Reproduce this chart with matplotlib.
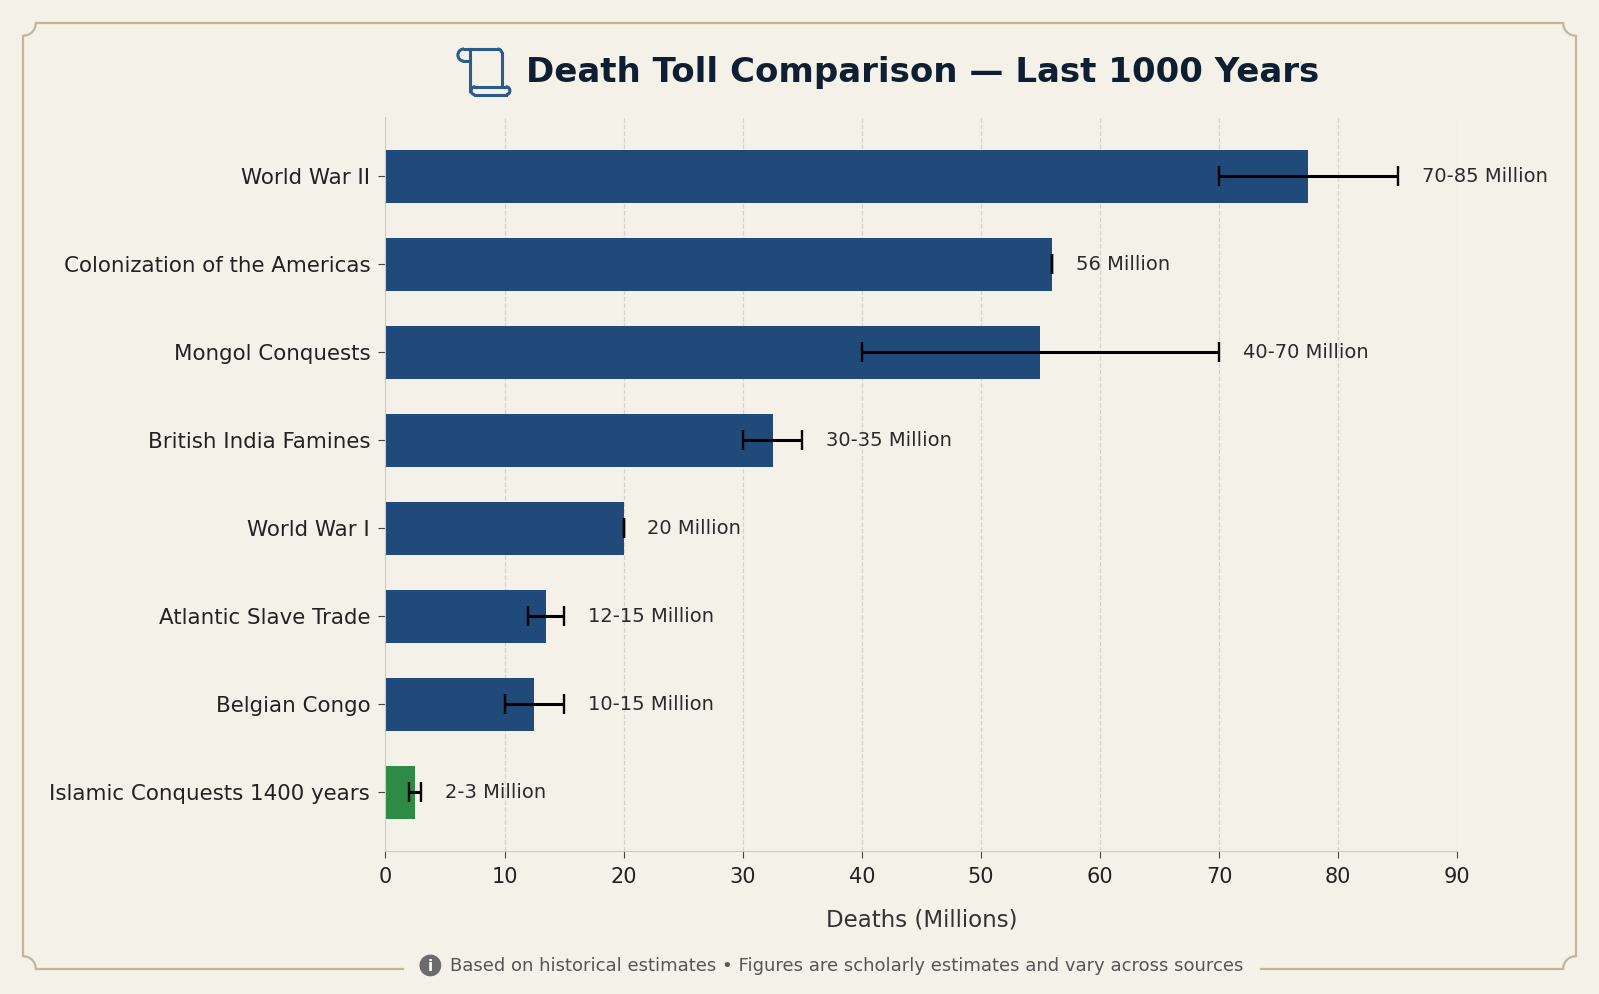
import matplotlib.pyplot as plt
from matplotlib.patches import Arc, Circle

# data (top to bottom)
events = ['World War II', 'Colonization of the Americas', 'Mongol Conquests',
          'British India Famines', 'World War I', 'Atlantic Slave Trade',
          'Belgian Congo', 'Islamic Conquests 1400 years']
low = [70, 56, 40, 30, 20, 12, 10, 2]
high = [85, 56, 70, 35, 20, 15, 15, 3]
value = [77.5, 56, 55, 32.5, 20, 13.5, 12.5, 2.5]
labels = ['70-85 Million', '56 Million', '40-70 Million', '30-35 Million',
          '20 Million', '12-15 Million', '10-15 Million', '2-3 Million']
colors = ['#1f4a7a'] * 7 + ['#2e8b45']

bg = '#f4f1e8'
border = '#c5b78e'

# layout grid used for placing decorations (scaled to the figure)
W, H = 1568, 975
fig = plt.figure(figsize=(15.99, 9.94), dpi=100)
fig.patch.set_facecolor(bg)

# decorative frame + icons
ov = fig.add_axes([0, 0, 1, 1], zorder=0)
ov.set_xlim(0, W)
ov.set_ylim(H, 0)
ov.axis('off')
ov.patch.set_alpha(0)

L, R, T, B, r = 23, 1545, 23, 950, 12
ov.plot([L + r, R - r], [T, T], color=border, lw=1.6)
ov.plot([L, L], [T + r, B - r], color=border, lw=1.6)
ov.plot([R, R], [T + r, B - r], color=border, lw=1.6)
ov.plot([L + r, 395], [B, B], color=border, lw=1.6)
ov.plot([1237, R - r], [B, B], color=border, lw=1.6)
# concave corners
ov.add_patch(Arc((L, T), 2 * r, 2 * r, theta1=0, theta2=90, color=border, lw=1.6))
ov.add_patch(Arc((R, T), 2 * r, 2 * r, theta1=90, theta2=180, color=border, lw=1.6))
ov.add_patch(Arc((L, B), 2 * r, 2 * r, theta1=270, theta2=360, color=border, lw=1.6))
ov.add_patch(Arc((R, B), 2 * r, 2 * r, theta1=180, theta2=270, color=border, lw=1.6))

# scroll icon
ic = '#2b5a8c'
lw_i = 2.2
ov.plot([455, 488], [48, 48], color=ic, lw=lw_i, solid_capstyle='round')
ov.add_patch(Arc((488, 52), 8, 8, theta1=270, theta2=360, color=ic, lw=lw_i))
ov.plot([492, 492], [52, 85], color=ic, lw=lw_i)
ov.add_patch(Arc((455, 54), 12, 12, theta1=90, theta2=270, color=ic, lw=lw_i))
ov.plot([455, 461], [60, 60], color=ic, lw=lw_i)
ov.plot([461, 461], [48, 89], color=ic, lw=lw_i)
ov.plot([466, 496], [85, 85], color=ic, lw=lw_i)
ov.plot([466, 496], [93, 93], color=ic, lw=lw_i)
ov.add_patch(Arc((496, 89), 8, 8, theta1=270, theta2=90, color=ic, lw=lw_i))
ov.add_patch(Arc((466, 89), 8, 8, theta1=90, theta2=270, color=ic, lw=lw_i))

# title
ov.text(516, 71, 'Death Toll Comparison — Last 1000 Years',
        fontsize=24.5, fontweight='bold', color='#0f1e33', ha='left', va='center')

# footer
ov.add_patch(Circle((422, 947), 10, color='#6b6b6b'))
ov.text(422, 948, 'i', color='white', fontsize=11, fontweight='bold',
        ha='center', va='center')
ov.text(441, 948, 'Based on historical estimates • Figures are scholarly estimates and vary across sources',
        fontsize=13, color='#555555', ha='left', va='center')

# main chart
ax = fig.add_axes([378 / W, 1 - 835 / H, (1429 - 378) / W, (835 - 115) / H], zorder=1)
ax.set_facecolor('none')
y = list(range(len(events)))
ax.barh(y, value, height=0.6, color=colors, zorder=2)
xerr = [[v - lo for v, lo in zip(value, low)], [hi - v for v, hi in zip(value, high)]]
ax.errorbar(value, y, xerr=xerr, fmt='none', ecolor='black', elinewidth=2.2,
            capsize=7, capthick=1.7, zorder=3)
for yi, hi, lab in zip(y, high, labels):
    ax.text(hi + 2, yi, lab, va='center', ha='left', fontsize=14, color='#2a2a2a')

ax.set_yticks(y)
ax.set_yticklabels(events, fontsize=15.4, color='#222222')
ax.set_ylim(7.67, -0.67)
ax.set_xlim(0, 90)
ax.set_xticks(range(0, 91, 10))
ax.tick_params(axis='x', labelsize=15, colors='#222222', pad=6)
ax.tick_params(axis='y', pad=6)
ax.tick_params(axis='both', color='#444444', length=5)
ax.set_xlabel('Deaths (Millions)', fontsize=16.5, color='#333333', labelpad=16)
ax.grid(axis='x', linestyle='--', color='#d5d2cb', linewidth=0.9, zorder=0)
ax.set_axisbelow(True)
for s in ['top', 'right']:
    ax.spines[s].set_visible(False)
for s in ['left', 'bottom']:
    ax.spines[s].set_color('#d0ccc2')

fig.savefig('out.png', dpi=100, facecolor=bg)
